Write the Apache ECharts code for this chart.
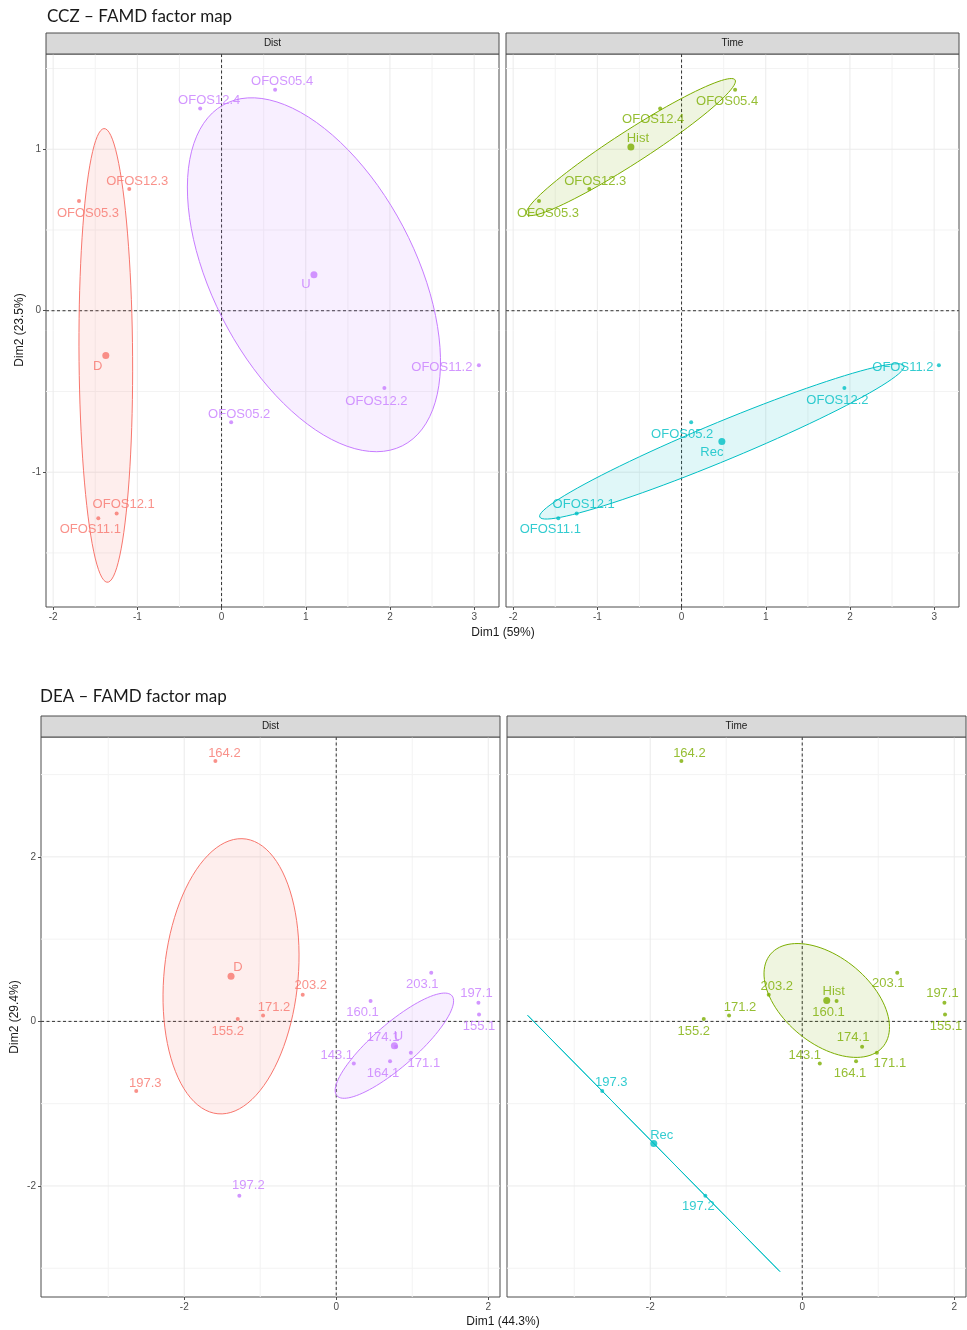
<!DOCTYPE html>
<html>
<head>
<meta charset="utf-8">
<title>FAMD factor maps</title>
<script src="https://cdn.jsdelivr.net/npm/echarts@6/dist/echarts.min.js"></script>
<style>
  html, body { margin: 0; padding: 0; background: #fff; }
  #main { width: 967px; height: 1330px; }
</style>
</head>
<body>
<div id="main"></div>
<script>
// ---------- data ----------
// CCZ individuals
const cczNames = ['OFOS05.3', 'OFOS12.3', 'OFOS12.1', 'OFOS11.1', 'OFOS05.4', 'OFOS12.4', 'OFOS11.2', 'OFOS12.2', 'OFOS05.2'];
const cczDim1 = [-1.693, -1.096, -1.246, -1.464, 0.636, -0.254, 3.056, 1.934, 0.114];
const cczDim2 = [0.680, 0.754, -1.256, -1.285, 1.368, 1.252, -0.337, -0.479, -0.690];
const cczDist = ['D', 'D', 'D', 'D', 'U', 'U', 'U', 'U', 'U'];
const cczTime = ['Hist', 'Hist', 'Rec', 'Rec', 'Hist', 'Hist', 'Rec', 'Rec', 'Rec'];
const cczXTicks = [-2, -1, 0, 1, 2, 3];
const cczYTicks = [-1, 0, 1];
const cczXMinor = [-1.5, -0.5, 0.5, 1.5, 2.5];
const cczYMinor = [-1.5, -0.5, 0.5, 1.5];

// DEA individuals
const deaNames = ['164.2', '203.2', '171.2', '155.2', '197.3', '203.1', '197.1', '160.1', '155.1', '174.1', '171.1', '164.1', '143.1', '197.2'];
const deaDim1 = [-1.590, -0.441, -0.963, -1.296, -2.632, 1.250, 1.871, 0.452, 1.879, 0.788, 0.982, 0.708, 0.231, -1.275];
const deaDim2 = [3.165, 0.323, 0.073, 0.028, -0.847, 0.591, 0.226, 0.247, 0.085, -0.309, -0.382, -0.483, -0.511, -2.120];
const deaDist = ['D', 'D', 'D', 'D', 'D', 'U', 'U', 'U', 'U', 'U', 'U', 'U', 'U', 'U'];
const deaTime = ['Hist', 'Hist', 'Hist', 'Hist', 'Rec', 'Hist', 'Hist', 'Hist', 'Hist', 'Hist', 'Hist', 'Hist', 'Hist', 'Rec'];
const deaXTicks = [-2, 0, 2];
const deaYTicks = [-2, 0, 2];
const deaXMinor = [-3, -1, 1];
const deaYMinor = [-3, -1, 1, 3];

const groupOrder = ['D', 'Hist', 'Rec', 'U'];
const groupColors = { D: '#F8766D', Hist: '#7CAE00', Rec: '#00BFC4', U: '#C77CFF' };

// label nudges in px (ggrepel placement as seen in the picture)
const nudges = {
  cczDist: { 'OFOS05.3': [9, 12], 'OFOS12.3': [8, -8], D: [-8, 11], 'OFOS12.1': [7, -9], 'OFOS11.1': [-8, 11],
             'OFOS05.4': [7, -8], 'OFOS12.4': [9, -8], U: [-8, 10], 'OFOS11.2': [-37, 2], 'OFOS12.2': [-8, 13], 'OFOS05.2': [8, -8] },
  cczTime: { 'OFOS05.4': [-8, 12], 'OFOS12.4': [-7, 11], Hist: [7, -9], 'OFOS12.3': [6, -8], 'OFOS05.3': [9, 12],
             'OFOS11.2': [-36, 2], 'OFOS12.2': [-7, 12], 'OFOS05.2': [-9, 12], Rec: [-10, 11], 'OFOS12.1': [7, -9], 'OFOS11.1': [-8, 11] },
  deaDist: { '164.2': [9, -8], D: [7, -9], '203.2': [8, -9], '171.2': [11, -8], '155.2': [-10, 12], '197.3': [9, -8],
             '203.1': [-9, 12], '197.1': [-2, -9], '160.1': [-8, 11], '155.1': [0, 12], '174.1': [-13, -9], U: [4, -9],
             '171.1': [13, 11], '164.1': [-7, 12], '143.1': [-17, -8], '197.2': [9, -10] },
  deaTime: { '164.2': [8, -8], '203.2': [8, -8], Hist: [7, -9], '160.1': [-8, 11], '203.1': [-9, 11], '197.1': [-2, -9],
             '171.2': [11, -8], '155.2': [-10, 12], '155.1': [1, 12], '174.1': [-9, -9], '171.1': [13, 11], '164.1': [-6, 12],
             '143.1': [-15, -8], '197.3': [9, -9], Rec: [8, -8], '197.2': [-7, 11] }
};

// ---------- panels ----------
const panels = [
  { id: 'cczDist', strip: 'Dist', names: cczNames, x: cczDim1, y: cczDim2, groups: cczDist,
    left: 46, top: 54, width: 453, height: 553, xMin: -2.085, xMax: 3.295, yMin: -1.835, yMax: 1.59,
    xTicks: cczXTicks, yTicks: cczYTicks, xMinor: cczXMinor, yMinor: cczYMinor, showY: true },
  { id: 'cczTime', strip: 'Time', names: cczNames, x: cczDim1, y: cczDim2, groups: cczTime,
    left: 506, top: 54, width: 453, height: 553, xMin: -2.085, xMax: 3.295, yMin: -1.835, yMax: 1.59,
    xTicks: cczXTicks, yTicks: cczYTicks, xMinor: cczXMinor, yMinor: cczYMinor, showY: false },
  { id: 'deaDist', strip: 'Dist', names: deaNames, x: deaDim1, y: deaDim2, groups: deaDist,
    left: 41, top: 737, width: 459, height: 560, xMin: -3.885, xMax: 2.155, yMin: -3.35, yMax: 3.457,
    xTicks: deaXTicks, yTicks: deaYTicks, xMinor: deaXMinor, yMinor: deaYMinor, showY: true },
  { id: 'deaTime', strip: 'Time', names: deaNames, x: deaDim1, y: deaDim2, groups: deaTime,
    left: 507, top: 737, width: 459, height: 560, xMin: -3.885, xMax: 2.155, yMin: -3.35, yMax: 3.457,
    xTicks: deaXTicks, yTicks: deaYTicks, xMinor: deaXMinor, yMinor: deaYMinor, showY: false }
];

const FONT = 'Liberation Sans, Arial, sans-serif';
const T95 = Math.sqrt(-2 * Math.log(1 - 0.95)); // sqrt(qchisq(0.95, 2))

function hexA(hex, a) {
  const n = parseInt(hex.slice(1), 16);
  return 'rgba(' + (n >> 16) + ',' + ((n >> 8) & 255) + ',' + (n & 255) + ',' + a + ')';
}

// confidence ellipse of the group mean (like ellipse::ellipse on cov/n)
function groupStats(p) {
  const out = [];
  groupOrder.forEach(g => {
    const idx = p.groups.map((v, i) => v === g ? i : -1).filter(i => i >= 0);
    if (!idx.length) return;
    const n = idx.length;
    const cx = idx.reduce((s, i) => s + p.x[i], 0) / n;
    const cy = idx.reduce((s, i) => s + p.y[i], 0) / n;
    let sxx = 0, syy = 0, sxy = 0;
    idx.forEach(i => {
      const dx = p.x[i] - cx, dy = p.y[i] - cy;
      sxx += dx * dx; syy += dy * dy; sxy += dx * dy;
    });
    sxx /= (n - 1) * n; syy /= (n - 1) * n; sxy /= (n - 1) * n;
    const sx = Math.sqrt(sxx), sy = Math.sqrt(syy);
    const r = Math.max(-1, Math.min(1, sxy / (sx * sy)));
    const d = Math.acos(r);
    const ell = [];
    for (let k = 0; k < 100; k++) {
      const a = 2 * Math.PI * k / 99;
      ell.push([T95 * sx * Math.cos(a + d / 2) + cx, T95 * sy * Math.cos(a - d / 2) + cy]);
    }
    out.push({ name: g, idx, cx, cy, ellipse: ell, color: groupColors[g] });
  });
  return out;
}

const grid = [], xAxis = [], yAxis = [], series = [], graphic = [];

panels.forEach((p, pi) => {
  grid.push({ left: p.left, top: p.top, width: p.width, height: p.height, show: true,
              borderColor: '#4d4d4d', borderWidth: 1, backgroundColor: '#fff' });
  xAxis.push({
    gridIndex: pi, type: 'value', min: p.xMin, max: p.xMax,
    axisLine: { show: false, onZero: false }, splitLine: { show: false },
    axisTick: { show: true, customValues: p.xTicks, length: 3, lineStyle: { color: '#4d4d4d' } },
    axisLabel: { show: true, customValues: p.xTicks, color: '#4d4d4d', fontSize: 10, margin: 5, fontFamily: FONT }
  });
  yAxis.push({
    gridIndex: pi, type: 'value', min: p.yMin, max: p.yMax,
    axisLine: { show: false, onZero: false }, splitLine: { show: false },
    axisTick: { show: p.showY, customValues: p.yTicks, length: 3, lineStyle: { color: '#4d4d4d' } },
    axisLabel: { show: p.showY, customValues: p.yTicks, color: '#4d4d4d', fontSize: 10, margin: 5, fontFamily: FONT }
  });

  // grid lines: [value, horizontal?, kind] kind 0 minor, 1 major, 2 zero dashed
  const lines = [];
  p.xMinor.forEach(v => lines.push([v, 0, 0]));
  p.yMinor.forEach(v => lines.push([v, 1, 0]));
  p.xTicks.forEach(v => lines.push([v, 0, 1]));
  p.yTicks.forEach(v => lines.push([v, 1, 1]));
  lines.push([0, 0, 2], [0, 1, 2]);
  series.push({
    type: 'custom', xAxisIndex: pi, yAxisIndex: pi, z: 1, silent: true, animation: false,
    data: lines,
    renderItem: (params, api) => {
      const cs = params.coordSys;
      const v = api.value(0), horiz = api.value(1), kind = api.value(2);
      let shape;
      if (horiz) {
        const yy = api.coord([0, v])[1];
        shape = { x1: cs.x, y1: yy, x2: cs.x + cs.width, y2: yy };
      } else {
        const xx = api.coord([v, 0])[0];
        shape = { x1: xx, y1: cs.y, x2: xx, y2: cs.y + cs.height };
      }
      const style = kind === 2
        ? { stroke: '#333', lineWidth: 1, lineDash: [3, 2.5] }
        : { stroke: kind === 1 ? '#ebebeb' : '#f3f3f3', lineWidth: 1 };
      return { type: 'line', shape, style };
    }
  });

  const stats = groupStats(p);
  // ellipses
  series.push({
    type: 'custom', xAxisIndex: pi, yAxisIndex: pi, z: 2, silent: true, animation: false,
    data: stats.map((g, i) => [g.cx, g.cy, i]),
    renderItem: (params, api) => {
      const g = stats[api.value(2)];
      return { type: 'polygon', shape: { points: g.ellipse.map(q => api.coord(q)) },
               style: { fill: hexA(g.color, 0.12), stroke: g.color, lineWidth: 1 } };
    }
  });

  const nd = nudges[p.id];
  stats.forEach(g => {
    const lbl = { show: true, formatter: '{b}', position: 'inside', color: g.color, fontSize: 13, fontFamily: FONT };
    // individuals
    series.push({
      type: 'scatter', xAxisIndex: pi, yAxisIndex: pi, z: 3, silent: true, animation: false,
      symbolSize: 4, itemStyle: { color: g.color }, label: lbl,
      data: g.idx.map(i => ({ name: p.names[i], value: [p.x[i], p.y[i]],
                              label: { offset: nd[p.names[i]] || [0, -9] } }))
    });
    // group centre
    series.push({
      type: 'scatter', xAxisIndex: pi, yAxisIndex: pi, z: 4, silent: true, animation: false,
      symbolSize: 7, itemStyle: { color: g.color }, label: lbl,
      data: [{ name: g.name, value: [g.cx, g.cy], label: { offset: nd[g.name] || [0, -9] } }]
    });
  });

  // facet strip
  graphic.push({
    type: 'rect', shape: { x: p.left, y: p.top - 21, width: p.width, height: 21 },
    style: { fill: '#d9d9d9', stroke: '#4d4d4d', lineWidth: 1 }, z: 10
  });
  graphic.push({
    type: 'text', x: p.left + p.width / 2, y: p.top - 10.5, z: 11,
    style: { text: p.strip, font: '10px ' + FONT, fill: '#1a1a1a',
             align: 'center', verticalAlign: 'middle', textAlign: 'center', textVerticalAlign: 'middle' }
  });
});

function txt(text, x, y, font, rot) {
  return {
    type: 'text', x, y, rotation: rot || 0, z: 11,
    style: { text, font, fill: '#1a1a1a', align: rot ? 'center' : 'left', verticalAlign: 'middle',
             textAlign: rot ? 'center' : 'left', textVerticalAlign: 'middle' }
  };
}
function ctxt(text, x, y, font, rot) {
  const t = txt(text, x, y, font, rot);
  t.style.align = 'center'; t.style.textAlign = 'center';
  return t;
}

graphic.push(txt('CCZ \u2013 FAMD factor map', 47, 17, '17px Lato, sans-serif'));
graphic.push(txt('DEA \u2013 FAMD factor map', 40, 697, '17px Lato, sans-serif'));
graphic.push(ctxt('Dim1 (59%)', 503, 633, '12px ' + FONT));
graphic.push(ctxt('Dim1 (44.3%)', 503, 1322, '12px ' + FONT));
graphic.push(ctxt('Dim2 (23.5%)', 20, 330, '12px ' + FONT, Math.PI / 2));
graphic.push(ctxt('Dim2 (29.4%)', 15, 1017, '12px ' + FONT, Math.PI / 2));

const chart = echarts.init(document.getElementById('main'));
chart.setOption({
  animation: false,
  backgroundColor: '#fff',
  textStyle: { fontFamily: FONT },
  grid, xAxis, yAxis, series, graphic
});
</script>
</body>
</html>
